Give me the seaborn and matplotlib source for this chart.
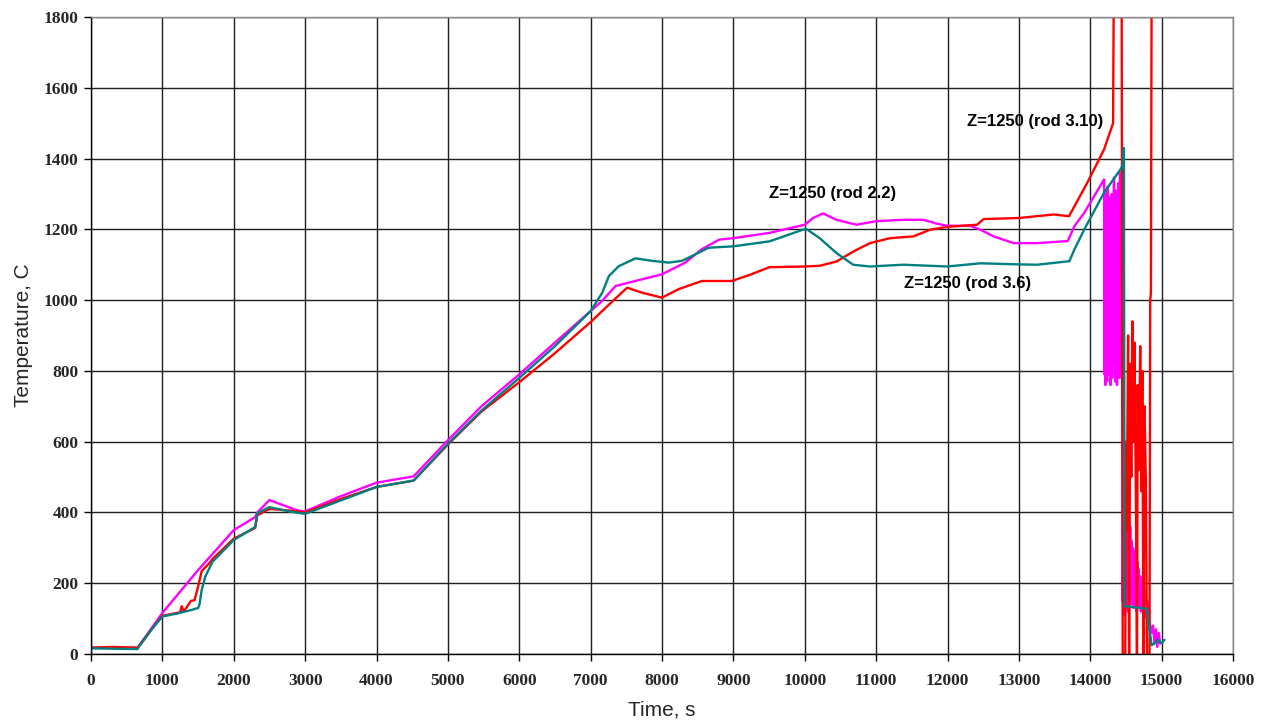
import matplotlib
matplotlib.use("Agg")
import matplotlib.pyplot as plt
import seaborn as sns
import pandas as pd

# ---- data ----
red_t = [0, 300, 650, 700, 850, 1000, 1100, 1250, 1270, 1300, 1350, 1400, 1450, 1500, 1550,
         1650, 1700, 2000, 2300, 2330, 2500, 2800, 3000, 3500, 4000, 4520, 5000, 5470, 6000,
         6500, 7000, 7350, 7512, 7721, 8000, 8233, 8558, 8977, 9225, 9506, 10000, 10210,
         10444, 10678, 10913, 11194, 11522, 11757, 12000, 12413, 12507, 13000, 13491, 13702,
         13960, 14194, 14320,
         14330, 14440, 14455, 14490, 14500, 14510, 14530, 14545, 14560, 14575, 14590, 14605,
         14620, 14640, 14655, 14665, 14680, 14700, 14715, 14730, 14745, 14760, 14780, 14795,
         14830, 14840, 14850, 14860]
red_v = [18, 20, 18, 28, 70, 108, 112, 118, 135, 120, 135, 150, 152, 190, 234,
         255, 268, 326, 356, 392, 410, 405, 400, 438, 472, 490, 592, 685, 768,
         850, 938, 1005, 1035, 1021, 1007, 1031, 1054, 1054, 1071, 1093, 1095, 1097,
         1109, 1137, 1161, 1175, 1180, 1199, 1207, 1213, 1229, 1232, 1242, 1237,
         1332, 1426, 1500,
         1900, 1900, -50, -50, 600, 350, 900, -50, 820, 500, 940, 600,
         880, 420, -50, 760, 520, 870, 460, 800, -50, 700, 480, -50,
         -50, 1000, 1020, 1900]

mag_t = [0, 300, 650, 700, 1000, 1500, 2000, 2300, 2330, 2500, 2700, 2900, 3000, 3500,
         4000, 4520, 5000, 5470, 6000, 6500, 7000, 7163, 7350, 7628, 8000, 8326, 8558,
         8803, 9000, 9506, 10000, 10116, 10256, 10444, 10725, 11000, 11382, 11663, 11850,
         12000, 12319, 12460, 12647, 12928, 13256, 13685, 13778, 13917, 14194,
         14200, 14206, 14212, 14218, 14224, 14230, 14236, 14242, 14248, 14254, 14260, 14266,
         14272, 14278, 14284, 14290, 14296, 14302, 14308, 14314, 14320, 14326, 14333, 14339,
         14345, 14351, 14357, 14363, 14369, 14375, 14381, 14387, 14393, 14399, 14405, 14411,
         14417, 14423, 14429, 14435, 14441, 14447,
         14455, 14462, 14469, 14476, 14483, 14490, 14497, 14504, 14511, 14518, 14525,
         14532, 14539, 14546, 14553, 14560, 14570, 14580, 14590, 14600, 14610, 14620,
         14630, 14640, 14650, 14660, 14670, 14680, 14690, 14700, 14710, 14720, 14730,
         14740, 14750, 14760, 14770, 14780, 14790, 14800,
         14830, 14860, 14880, 14900, 14920, 14940, 14960, 14980]
mag_v = [18, 18, 17, 31, 116, 237, 350, 387, 400, 435, 420, 405, 403, 446,
         484, 502, 604, 700, 790, 880, 969, 998, 1040, 1054, 1073, 1106, 1144,
         1171, 1175, 1190, 1213, 1232, 1245, 1227, 1213, 1223, 1227, 1227, 1216,
         1210, 1210, 1199, 1180, 1161, 1161, 1167, 1209, 1247, 1341,
         790, 1300, 760, 1250, 820, 1210, 770, 1320, 860, 1180, 790, 1290,
         880, 1240, 760, 1150, 830, 1300, 780, 1270, 900, 1200, 1346, 820,
         1220, 770, 1310, 850, 1250, 760, 1190, 880, 1330, 800, 1260, 780,
         1360, 840, 1300, 900, 1330, 870,
         150, 390, 110, 360, 160, 380, 130, 340, 180, 370, 120,
         350, 150, 330, 170, 360, 140, 320, 160, 300, 130, 290,
         150, 280, 120, 260, 140, 240, 130, 220, 120, 200, 120,
         190, 110, 180, 110, 160, 100, 150,
         90, 60, 80, 30, 70, 20, 60, 30]

teal_t = [0, 300, 650, 700, 850, 1000, 1200, 1400, 1500, 1520, 1550, 1600, 1700, 2000,
          2300, 2330, 2500, 2800, 3000, 3500, 4000, 4520, 5000, 5470, 6000, 6500, 7000,
          7163, 7256, 7395, 7628, 7860, 8093, 8280, 8465, 8651, 9000, 9506, 9975, 10022,
          10210, 10444, 10678, 10913, 11382, 12000, 12460, 13000, 13256, 13708, 13778,
          13917, 14194, 14426, 14452, 14472, 14480, 14790, 14860, 14900, 14950, 15000,
          15040]
teal_v = [16, 15, 14, 30, 70, 106, 114, 124, 130, 140, 180, 218, 260, 322,
          359, 398, 415, 402, 396, 434, 472, 490, 594, 688, 780, 870, 969,
          1021, 1068, 1096, 1118, 1111, 1106, 1111, 1129, 1148, 1152, 1166, 1199, 1201,
          1175, 1133, 1100, 1095, 1100, 1095, 1104, 1101, 1100, 1110, 1143,
          1200, 1304, 1370, 1380, 1430, 135, 128, 25, 30, 40, 30,
          40]

series_names = ["Z=1250 (rod 2.2)", "Z=1250 (rod 3.10)", "Z=1250 (rod 3.6)"]
series_colors = ["#FF00FF", "#FF0000", "#008080"]
label_pos_x = [10395, 13225, 12287]
label_pos_y = [1300, 1506, 1048]

x_ticks = list(range(0, 16001, 1000))
y_ticks = list(range(0, 1801, 200))

frames = []
for name, t, v in zip(series_names, [mag_t, red_t, teal_t], [mag_v, red_v, teal_v]):
    frames.append(pd.DataFrame({"Time": t, "Temp": v, "series": name}))
df = pd.concat(frames, ignore_index=True)

sns.set_theme(style="white")
plt.rcParams["font.family"] = ["Liberation Sans", "DejaVu Sans"]

fig = plt.figure(figsize=(12.67, 7.25), dpi=100)
ax = fig.add_axes([91 / 1267, 1 - 654 / 725, (1233 - 91) / 1267, (654 - 17) / 725])

sns.lineplot(data=df, x="Time", y="Temp", hue="series", hue_order=series_names,
             palette=series_colors, sort=False, estimator=None, units="series",
             linewidth=1.7, legend=False, ax=ax)

ax.set_xlim(0, 16000)
ax.set_ylim(0, 1800)
ax.set_xticks(x_ticks)
ax.set_yticks(y_ticks)
ax.grid(True, color="#1e1e1e", linewidth=1.0)
ax.set_axisbelow(True)
for s in ["left", "bottom"]:
    ax.spines[s].set_color("black")
    ax.spines[s].set_linewidth(1.0)
for s in ["top", "right"]:
    ax.spines[s].set_color("#8a8a8a")
    ax.spines[s].set_linewidth(1.0)
ax.tick_params(axis="both", direction="out", length=5, width=1, color="black",
               bottom=True, left=True)
ax.tick_params(axis="x", pad=9)
ax.tick_params(axis="y", pad=4)
for lab in ax.get_xticklabels() + ax.get_yticklabels():
    lab.set_fontfamily("Liberation Serif")
    lab.set_fontweight("bold")
    lab.set_fontsize(12.5)

ax.set_xlabel("Time, s", fontsize=15, labelpad=8)
ax.set_ylabel("Temperature, C", fontsize=15, labelpad=8)

for name, x, y in zip(series_names, label_pos_x, label_pos_y):
    ax.text(x, y, name, ha="center", va="center", fontsize=12, fontweight="bold",
            color="black")

fig.savefig("out.png", dpi=100)
